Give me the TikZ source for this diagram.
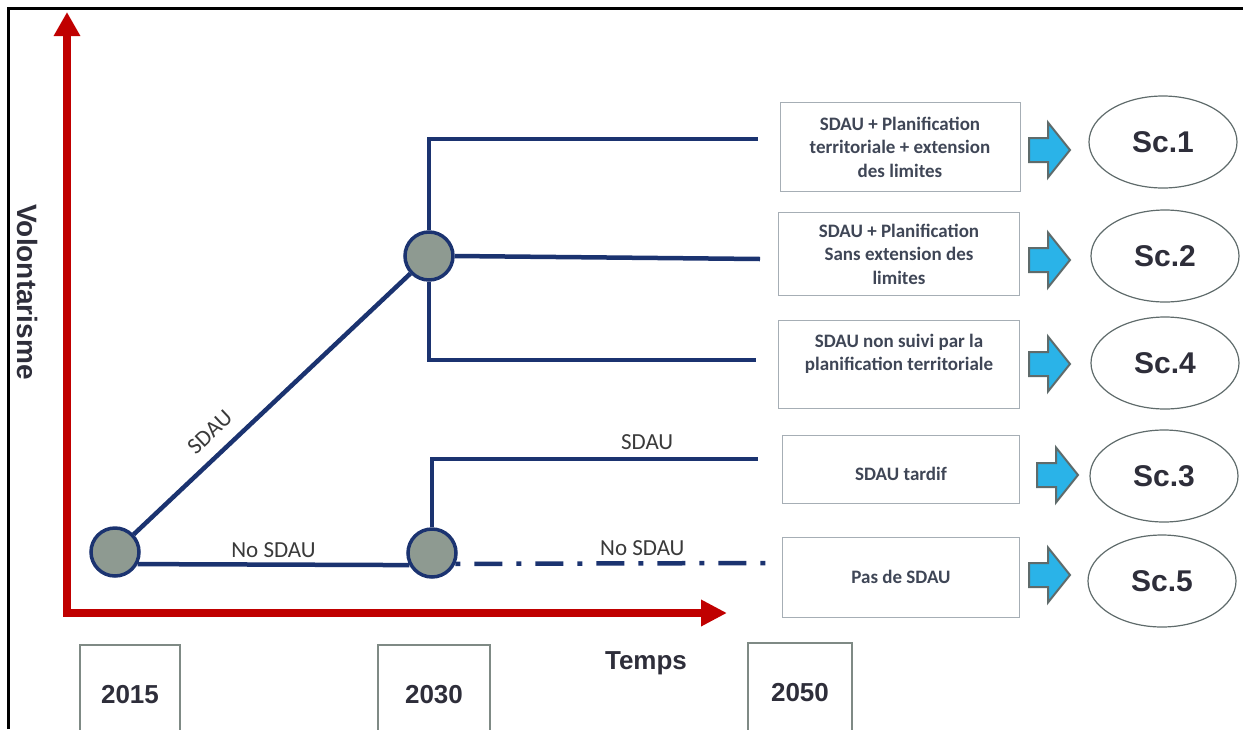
\documentclass[tikz,border=0pt]{standalone}
\usepackage{fontspec}
\setmainfont{Carlito}
\newfontfamily\arialfont{Liberation Sans}
\usetikzlibrary{arrows.meta,shapes.geometric}
\definecolor{navy}{HTML}{1B3370}
\definecolor{axisred}{HTML}{C00000}
\definecolor{stagegrey}{HTML}{8E9A91}
\definecolor{boxgrey}{HTML}{A6AEB5}
\definecolor{yeargrey}{HTML}{7F8A85}
\definecolor{txtgrey}{HTML}{3F4656}
\definecolor{lblgrey}{HTML}{3A3A3A}
\definecolor{darktxt}{HTML}{2E2E3A}
\definecolor{arrowblue}{HTML}{2AB3E8}
\definecolor{arrowedge}{HTML}{5F6B6B}
\newcommand{\boxfont}{\fontsize{19}{23.5}\selectfont\bfseries}
\newcommand{\lblfont}{\fontsize{23}{26}\selectfont}
\newcommand{\scfont}{\arialfont\fontsize{30}{34}\selectfont\bfseries}
\newcommand{\yearfont}{\arialfont\fontsize{26}{28}\selectfont\bfseries}
\begin{document}
\begin{tikzpicture}[x=1pt,y=-1pt,
    axis/.style={draw=axisred,line width=8,line join=miter},
    branch/.style={draw=navy,line width=4.5},
    stage/.style={circle,draw=navy,line width=3.5,fill=stagegrey,minimum size=48,inner sep=0},
    scenbox/.style={draw=boxgrey,line width=1,align=center,font=\boxfont,text=txtgrey,inner sep=0},
    scen/.style={ellipse,draw=arrowedge,line width=1.2,minimum width=148,minimum height=92,font=\scfont,text=darktxt},
    yearbox/.style={draw=yeargrey,line width=2.2,minimum height=100,font=\yearfont,text=darktxt},
    lbl/.style={font=\lblfont,text=lblgrey},
    blockarrow/.style={draw=arrowedge,line width=2,fill=arrowblue,line join=miter}]
\useasboundingbox (0,0) rectangle (1243,729);
% frame
\draw[line width=3] (8,729) -- (8,8) -- (1243,8);
% axes
\coordinate (ytop) at (67,12);
\coordinate (origin) at (67,613);
\coordinate (xend) at (727,613);
\draw[axis,{Triangle[width=25pt,length=24pt]}-{Triangle[width=25pt,length=26pt]}] (ytop) -- (origin) -- (xend);
\node[font=\arialfont\fontsize{28}{30}\selectfont\bfseries,text=darktxt,rotate=-90] (vol) at (28,292) {Volontarisme};
\node[font=\arialfont\fontsize{26}{28}\selectfont\bfseries,text=darktxt] (temps) at (646,663) {Temps};
% years
\node[yearbox,minimum width=100] (y2015) at (130,695) {2015};
\node[yearbox,minimum width=112] (y2030) at (434,695) {2030};
\node[yearbox,minimum width=104] (y2050) at (800,693) {2050};
% stages
\node[stage] (s2015) at (115,552) {};
\node[stage] (nosdau) at (432,553) {};
\node[stage] (sdau) at (429,256) {};
% branch ends
\coordinate (e1) at (758,139);
\coordinate (e2) at (760,259);
\coordinate (e3) at (756,360);
\coordinate (e4) at (758,459);
\coordinate (e5) at (767,563);
% branches
\draw[branch] (s2015) -- node[lbl,pos=0.33,above=9pt,sloped] {SDAU} (sdau);
\draw[branch] (s2015.-28) -- node[lbl,above=1pt] {No SDAU} (nosdau.208);
\draw[branch] (sdau.north) |- (e1);
\draw[branch] (sdau.east) -- (e2);
\draw[branch] (sdau.south) |- (e3);
\draw[branch] (nosdau.north) |- node[lbl,pos=0.83,above=4pt] {SDAU} (e4);
\draw[branch,dash pattern=on 5 off 14 on 28 off 14] (nosdau.-25) -- node[lbl,pos=0.6,above=2pt] {No SDAU} (e5);
% scenario boxes
\node[scenbox,minimum width=240,minimum height=89] (b1) at (900,147) {SDAU + Planification\\territoriale + extension\\des limites};
\node[scenbox,minimum width=241,minimum height=83] (b2) at (899,254) {SDAU + Planification\\Sans extension des\\limites};
\node[scenbox,minimum width=241,minimum height=88] (b3) at (899,364) {SDAU non suivi par la\\planification territoriale\\~};
\node[scenbox,minimum width=237,minimum height=68] (b4) at (901,469) {~\\SDAU tardif};
\node[scenbox,minimum width=237,minimum height=80] (b5) at (901,577) {Pas de SDAU};
% arrows
\foreach \x/\y in {1029/150,1029/260,1029/364,1037/475,1029/575}
  \draw[blockarrow] (\x,\y-12) -- ++(19,0) -- ++(0,-15.5) -- ++(22,27.5) -- ++(-22,27.5) -- ++(0,-15.5) -- ++(-19,0) -- cycle;
% scenarios
\node[scen] (sc1) at (1163,142) {Sc.1};
\node[scen] (sc2) at (1165,256) {Sc.2};
\node[scen] (sc4) at (1165,363) {Sc.4};
\node[scen] (sc3) at (1164,476) {Sc.3};
\node[scen] (sc5) at (1162,581) {Sc.5};
\end{tikzpicture}
\end{document}
